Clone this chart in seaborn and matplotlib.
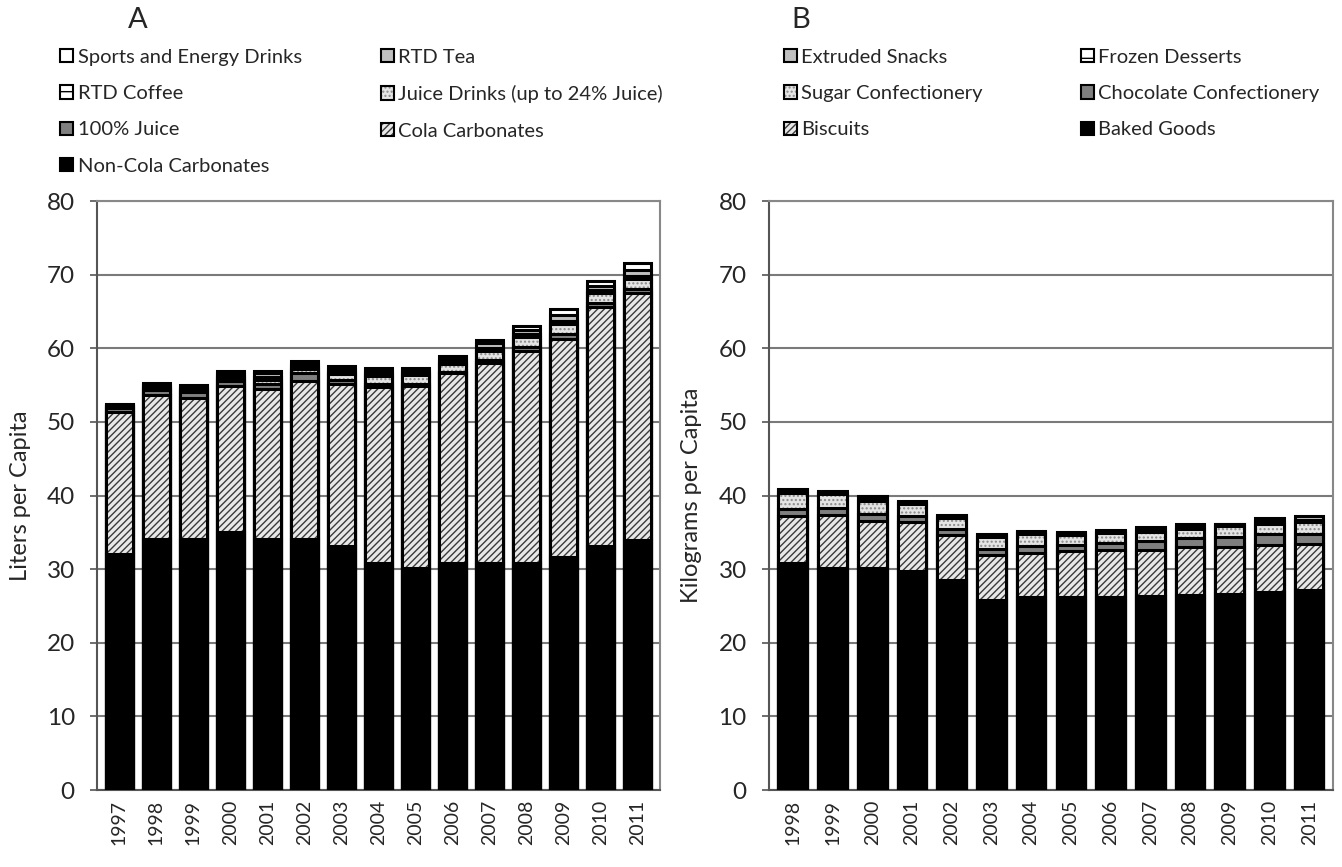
import matplotlib
matplotlib.use("Agg")
import matplotlib.pyplot as plt
import matplotlib.patches as mpatches
from matplotlib.colors import to_rgba
import numpy as np
import pandas as pd
import seaborn as sns

# --- data ---
years_a = ["1997", "1998", "1999", "2000", "2001", "2002", "2003", "2004",
           "2005", "2006", "2007", "2008", "2009", "2010", "2011"]
non_cola = [32.0, 34.1, 34.1, 35.1, 34.1, 34.1, 33.1, 30.9, 30.2, 30.9, 30.9, 30.9, 31.6, 33.1, 33.9]
cola = [19.4, 19.6, 19.2, 19.8, 20.4, 21.5, 22.1, 23.9, 24.7, 25.7, 27.1, 28.7, 29.7, 32.5, 33.6]
juice_100 = [0.5, 0.6, 0.7, 0.6, 0.6, 1.0, 0.5, 0.3, 0.3, 0.2, 0.4, 0.6, 0.7, 0.6, 0.6]
juice_drinks = [0.2, 0.3, 0.3, 0.5, 0.6, 0.6, 0.8, 1.2, 1.2, 1.0, 1.3, 1.3, 1.3, 1.3, 1.3]
rtd_coffee = [0.1, 0.2, 0.2, 0.3, 0.4, 0.3, 0.3, 0.3, 0.3, 0.3, 0.4, 0.4, 0.4, 0.4, 0.4]
rtd_tea = [0.1, 0.2, 0.2, 0.4, 0.5, 0.4, 0.4, 0.3, 0.3, 0.4, 0.6, 0.6, 0.8, 0.6, 0.8]
sports_energy = [0.1, 0.3, 0.3, 0.25, 0.35, 0.4, 0.4, 0.4, 0.3, 0.4, 0.4, 0.5, 0.8, 0.7, 1.0]

years_b = ["1998", "1999", "2000", "2001", "2002", "2003", "2004",
           "2005", "2006", "2007", "2008", "2009", "2010", "2011"]
baked_goods = [30.8, 30.2, 30.1, 29.8, 28.5, 25.8, 26.2, 26.2, 26.2, 26.3, 26.5, 26.6, 26.9, 27.2]
biscuits = [6.4, 7.2, 6.4, 6.6, 6.1, 6.1, 6.0, 6.2, 6.4, 6.3, 6.5, 6.4, 6.4, 6.2]
chocolate = [1.0, 0.9, 1.0, 0.8, 0.8, 0.9, 1.0, 0.9, 1.0, 1.2, 1.2, 1.4, 1.5, 1.4]
sugar_conf = [2.1, 1.9, 1.8, 1.7, 1.5, 1.5, 1.6, 1.4, 1.25, 1.3, 1.3, 1.4, 1.4, 1.6]
frozen_desserts = [0.4, 0.2, 0.4, 0.2, 0.3, 0.3, 0.2, 0.2, 0.2, 0.3, 0.4, 0.3, 0.3, 0.3]
extruded_snacks = [0.25, 0.2, 0.3, 0.1, 0.2, 0.2, 0.2, 0.2, 0.25, 0.35, 0.2, 0.1, 0.5, 0.5]

# fill styles: (facecolor, hatch, hatch colour)
STYLE = {
    "black": ("black", None, "black"),
    "diag": ("#e8e8e8", "/////", "#3a3a3a"),
    "dark": ("#7f7f7f", None, "black"),
    "dots": ("#e4e4e4", "....", "#8a8a8a"),
    "hline": ("white", "-", "black"),
    "light": ("#bfbfbf", None, "black"),
    "white": ("white", None, "black"),
}

layers_a = [
    ("Non-Cola Carbonates", non_cola, "black"),
    ("Cola Carbonates", cola, "diag"),
    ("100% Juice", juice_100, "dark"),
    ("Juice Drinks (up to 24% Juice)", juice_drinks, "dots"),
    ("RTD Coffee", rtd_coffee, "hline"),
    ("RTD Tea", rtd_tea, "light"),
    ("Sports and Energy Drinks", sports_energy, "white"),
]
layers_b = [
    ("Baked Goods", baked_goods, "black"),
    ("Biscuits", biscuits, "diag"),
    ("Chocolate Confectionery", chocolate, "dark"),
    ("Sugar Confectionery", sugar_conf, "dots"),
    ("Frozen Desserts", frozen_desserts, "hline"),
    ("Extruded Snacks", extruded_snacks, "light"),
]

sns.set_style("white")
plt.rcParams["font.family"] = ["Lato", "DejaVu Sans"]
plt.rcParams["hatch.linewidth"] = 1.0

fig = plt.figure(figsize=(13.42, 8.67), dpi=100)
ax_a = fig.add_axes([0.0723, 0.0888, 0.4195, 0.6793])
ax_b = fig.add_axes([0.5730, 0.0888, 0.4203, 0.6793])


def stacked(ax, years, layers, ylabel, labelpad):
    df = pd.DataFrame({name: vals for name, vals, _ in layers}, index=years)
    cum = df.cumsum(axis=1)
    # draw from the top layer down so each shorter cumulative bar sits in front
    for name, _, style in reversed(layers):
        fc, hatch, hc = STYLE[style]
        n_before = len(ax.patches)
        sns.barplot(x=years, y=cum[name].values, order=years, ax=ax,
                    color=fc, saturation=1, width=0.72, edgecolor="black",
                    linewidth=2.2, hatch=hatch, zorder=3)
        for p in ax.patches[n_before:]:
            p._hatch_color = to_rgba(hc)
    ax.set_ylim(0, 80)
    ax.set_yticks(range(0, 81, 10))
    ax.set_xlim(-0.6, len(years) - 0.4)
    ax.yaxis.grid(True, color="#7a7a7a", linewidth=1.5, zorder=0)
    ax.set_axisbelow(True)
    for side in ["left", "bottom"]:
        ax.spines[side].set_color("#555555")
        ax.spines[side].set_linewidth(1.5)
    for side in ["top", "right"]:
        ax.spines[side].set_color("#888888")
        ax.spines[side].set_linewidth(1.5)
    ax.tick_params(axis="y", labelsize=17.5, length=5, width=1.2, pad=11,
                   left=True, color="#555555")
    ax.tick_params(axis="x", labelsize=14, rotation=90, length=0, pad=7)
    ax.set_ylabel(ylabel, fontsize=17, labelpad=labelpad)
    ax.set_xlabel("")


stacked(ax_a, years_a, layers_a, "Liters per Capita", 11)
stacked(ax_b, years_b, layers_b, "Kilograms per Capita", 12)


def legend_handles(layers, order):
    hs = []
    for i in order:
        name, _, style = layers[i]
        fc, hatch, hc = STYLE[style]
        p = mpatches.Patch(facecolor=fc, edgecolor="black", hatch=hatch,
                           linewidth=1.5, label=name)
        p._hatch_color = to_rgba(hc)
        hs.append(p)
    return hs


# column-first fill so rows read like the original legend
h_a = legend_handles(layers_a, [6, 4, 2, 0, 5, 3, 1])
h_b = legend_handles(layers_b, [5, 3, 1, 4, 2, 0])
leg_kw = dict(ncol=2, frameon=False, fontsize=14.5, handlelength=0.65, handleheight=0.65,
              handletextpad=0.2, labelspacing=0.96, borderaxespad=0)
fig.legend(handles=h_a, loc="upper left", bbox_to_anchor=(0.039, 0.953),
           columnspacing=3.95, **leg_kw)
fig.legend(handles=h_b, loc="upper left", bbox_to_anchor=(0.578, 0.953),
           columnspacing=4.9, **leg_kw)

fig.text(0.095, 0.992, "A", fontsize=21, va="top")
fig.text(0.590, 0.992, "B", fontsize=21, va="top")

fig.savefig("out.png", dpi=100, facecolor="white")
